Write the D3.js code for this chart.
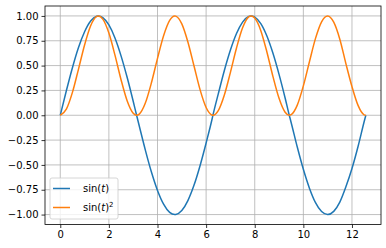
<!DOCTYPE html>
<html>
<head>
<meta charset="utf-8">
<script src="https://cdn.jsdelivr.net/npm/d3@7"></script>
<style>
  html, body { margin: 0; padding: 0; background: #fff; }
  svg { display: block; font-family: "DejaVu Sans", sans-serif; }
</style>
</head>
<body>
<svg id="chart" width="386" height="248"></svg>
<script>
// values
const tValues = [0, 0.25, 0.5, 0.75, 1, 1.25, 1.5, 1.57, 1.75, 2, 2.25, 2.5, 2.75, 3, 3.14, 3.25, 3.5, 3.75,
  4, 4.25, 4.5, 4.71, 4.75, 5, 5.25, 5.5, 5.75, 6, 6.25, 6.28, 6.5, 6.75, 7, 7.25, 7.5, 7.75, 7.85,
  8, 8.25, 8.5, 8.75, 9, 9.25, 9.42, 9.5, 9.75, 10, 10.25, 10.5, 10.75, 11, 11.25, 11.5, 11.75,
  12, 12.25, 12.5, 12.57];
const sinValues = [0, 0.247, 0.479, 0.682, 0.841, 0.949, 0.997, 1, 0.984, 0.909, 0.778, 0.598, 0.382, 0.141, 0, -0.108, -0.351, -0.572,
  -0.757, -0.895, -0.978, -1, -0.999, -0.959, -0.859, -0.706, -0.508, -0.279, -0.033, 0, 0.215, 0.451, 0.657, 0.823, 0.938, 0.995, 1,
  0.989, 0.923, 0.798, 0.624, 0.412, 0.174, 0, -0.075, -0.320, -0.544, -0.734, -0.880, -0.970, -1, -0.968, -0.875, -0.721,
  -0.537, -0.315, -0.066, 0];
const sinSqValues = [0, 0.061, 0.230, 0.465, 0.708, 0.901, 0.995, 1, 0.968, 0.827, 0.605, 0.358, 0.146, 0.020, 0, 0.012, 0.123, 0.327,
  0.573, 0.801, 0.956, 1, 0.998, 0.920, 0.738, 0.498, 0.258, 0.078, 0.001, 0, 0.046, 0.203, 0.432, 0.677, 0.880, 0.990, 1,
  0.978, 0.852, 0.637, 0.389, 0.170, 0.030, 0, 0.006, 0.102, 0.296, 0.539, 0.774, 0.941, 1, 0.937, 0.766, 0.520,
  0.288, 0.099, 0.004, 0];
const xTicks = [0, 2, 4, 6, 8, 10, 12];
const yTicks = [-1, -0.75, -0.5, -0.25, 0, 0.25, 0.5, 0.75, 1];
const seriesNames = ["sin", "sin2"];
const seriesColors = ["#1f77b4", "#ff7f0e"];

const svg = d3.select("#chart");
const plotLeft = 45, plotRight = 381, plotTop = 6, plotBottom = 224.5;

// matplotlib style 5% margins
const xSpan = 12.566;
const x = d3.scaleLinear().domain([-0.05 * xSpan, xSpan * 1.05]).range([plotLeft, plotRight]);
const y = d3.scaleLinear().domain([-1.1, 1.1]).range([plotBottom, plotTop]);

// grid
const grid = svg.append("g");
grid.selectAll(".gx").data(xTicks).join("line")
  .attr("x1", d => x(d)).attr("x2", d => x(d))
  .attr("y1", plotTop).attr("y2", plotBottom)
  .attr("stroke", "#b0b0b0").attr("stroke-width", 0.8);
grid.selectAll(".gy").data(yTicks).join("line")
  .attr("x1", plotLeft).attr("x2", plotRight)
  .attr("y1", d => y(d)).attr("y2", d => y(d))
  .attr("stroke", "#b0b0b0").attr("stroke-width", 0.8);

// lines
const series = [sinValues, sinSqValues];
const line = d3.line()
  .x((d, i) => x(tValues[i]))
  .y(d => y(d))
  .curve(d3.curveMonotoneX);

svg.append("g").selectAll("path").data(series).join("path")
  .attr("d", d => line(d))
  .attr("fill", "none")
  .attr("stroke", (d, i) => seriesColors[i])
  .attr("stroke-width", 1.5);

// axes
const fmtY = d => d3.format(".2f")(d).replace("-", "\u2212");
const xAxis = svg.append("g").attr("transform", `translate(0,${plotBottom})`)
  .call(d3.axisBottom(x).tickValues(xTicks).tickSize(3.5).tickPadding(3).tickFormat(d3.format("d")));
const yAxis = svg.append("g").attr("transform", `translate(${plotLeft},0)`)
  .call(d3.axisLeft(y).tickValues(yTicks).tickSize(3.5).tickPadding(3).tickFormat(fmtY));
[xAxis, yAxis].forEach(a => {
  a.select(".domain").remove();
  a.selectAll("text").attr("font-size", 10).attr("fill", "#000").attr("font-family", "DejaVu Sans");
  a.selectAll("line").attr("stroke", "#000").attr("stroke-width", 0.8);
});

// frame
svg.append("rect")
  .attr("x", plotLeft).attr("y", plotTop)
  .attr("width", plotRight - plotLeft).attr("height", plotBottom - plotTop)
  .attr("fill", "none").attr("stroke", "#000").attr("stroke-width", 0.8);

// legend
const lg = svg.append("g").attr("transform", "translate(50,178)");
lg.append("rect")
  .attr("width", 68).attr("height", 41).attr("rx", 2)
  .attr("fill", "#fff").attr("fill-opacity", 0.8)
  .attr("stroke", "#cccccc").attr("stroke-width", 0.8);
seriesNames.forEach((name, i) => {
  const ly = 10.5 + i * 19;
  lg.append("line")
    .attr("x1", 3).attr("x2", 20).attr("y1", ly).attr("y2", ly)
    .attr("stroke", seriesColors[i]).attr("stroke-width", 1.5);
  const t = lg.append("text").attr("x", 33).attr("y", ly + 3.5)
    .attr("font-size", 10).attr("fill", "#000");
  t.append("tspan").text("sin(");
  t.append("tspan").attr("font-style", "italic").text("t");
  t.append("tspan").text(")");
  if (name === "sin2") {
    t.append("tspan").attr("font-size", 7).attr("dy", -4).text("2");
  }
});
</script>
</body>
</html>
